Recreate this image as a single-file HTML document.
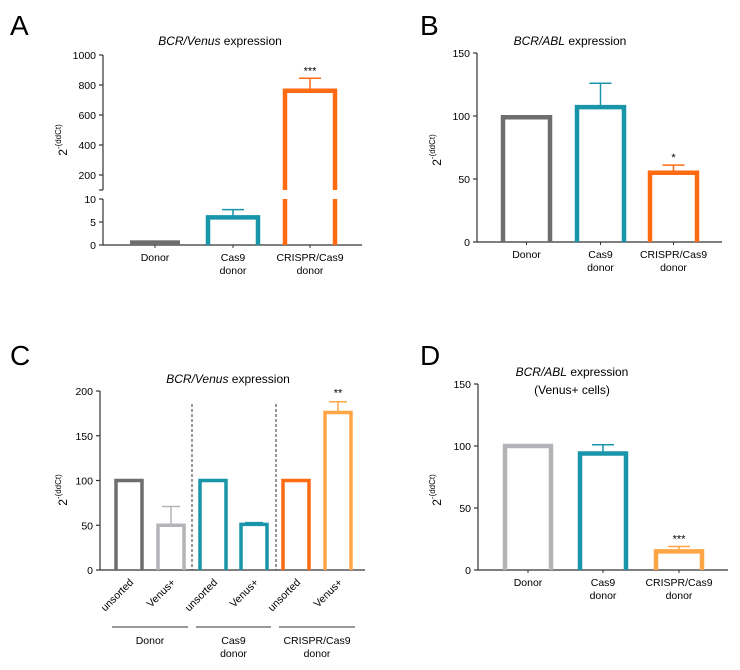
<!DOCTYPE html>
<html><head><meta charset="utf-8"><style>
html,body{margin:0;padding:0;background:#fff;}
svg{display:block;font-family:"Liberation Sans",Arial,sans-serif;}
</style></head><body>
<svg id="fig" width="740" height="670" viewBox="0 0 740 670" xmlns="http://www.w3.org/2000/svg">
<g id="root"></g>
</svg>
<script>
// Panel A data
const aCats = [["Donor"],["Cas9","donor"],["CRISPR/Cas9","donor"]];
const aVals = [0.8, 6, 762];
const aErr = [0.8, 7.7, 845];
const aStars = ["", "", "***"];
const aTicksLow = [0,5,10];
const aTicksHigh = [200,400,600,800,1000];
// Panel B data
const bCats = [["Donor"],["Cas9","donor"],["CRISPR/Cas9","donor"]];
const bVals = [99, 107, 55];
const bErr = [99, 126, 61];
const bStars = ["", "", "*"];
const bTicks = [0,50,100,150];
// Panel C data
const cCats = ["unsorted","Venus+","unsorted","Venus+","unsorted","Venus+"];
const cGroups = [["Donor"],["Cas9","donor"],["CRISPR/Cas9","donor"]];
const cVals = [100, 50, 100, 51, 100, 176];
const cErr = [100, 71, 100, 53, 100, 188];
const cStars = ["", "", "", "", "", "**"];
const cTicks = [0,50,100,150,200];
// Panel D data
const dCats = [["Donor"],["Cas9","donor"],["CRISPR/Cas9","donor"]];
const dVals = [100, 94, 15];
const dErr = [100, 101, 19];
const dStars = ["", "", "***"];
const dTicks = [0,50,100,150];

const NS="http://www.w3.org/2000/svg";
const root=document.getElementById('root');
function mk(tag,attrs,parent,text){const e=document.createElementNS(NS,tag);for(const k in attrs)e.setAttribute(k,attrs[k]);if(text!==undefined)e.textContent=text;(parent||root).appendChild(e);return e;}
function line(x1,y1,x2,y2,stroke,w,p,dash){const e=mk('line',{x1,y1,x2,y2,stroke,'stroke-width':w},p);if(dash)e.setAttribute('stroke-dasharray',dash);return e;}

const GRAY="#6e6e6e",LGRAY="#b4b4b8",TEAL="#1895a8",ORANGE="#ff6a12",LORANGE="#ffa545";

function panelLabel(t,x,y){const e=mk('text',{x,y,'font-size':28},root,t);

}
function ylabel(x,y){const g=mk('text',{transform:`translate(${x},${y}) rotate(-90)`,'font-size':12,'text-anchor':'middle'});


const t1=mk('tspan',{},g,'2');const t2=mk('tspan',{'font-size':8,dy:-6},g,'-(ddCt)');}
function title(x,y,ital,rest,name){const t=mk('text',{x,y,'font-size':12,'text-anchor':'middle'});


mk('tspan',{'font-style':'italic'},t,ital);mk('tspan',{},t,rest);}
function catLabel(x,y,lines,p){const t=mk('text',{x,y,'font-size':10.5,'text-anchor':'middle'},p);


lines.forEach((l,i)=>mk('tspan',{x,dy:i?13:0},t,l));}
function bar(g,x0,w,ytop,ybase,col,sw,name){
const p=mk('path',{d:`M${x0},${ybase} V${ytop} H${x0+w} V${ybase}`,fill:'none',stroke:col,'stroke-width':sw},g);

}
function errbar(g,cx,ytop,yerr,col,hw){line(cx,ytop,cx,yerr,col,1.5,g);line(cx-hw,yerr,cx+hw,yerr,col,1.5,g);}

function simplePanel(o){
 const g=mk('g',{});
 
 
 const y=v=>o.y0-(v-0)*(o.y0-o.yTop)/o.max;
 line(o.ax,o.yTop,o.ax,o.y0,'#333',1.2,g);
 line(o.ax,o.y0,o.axEnd,o.y0,'#333',1.2,g);
 o.ticks.forEach(t=>{line(o.ax-4,y(t),o.ax,y(t),'#333',1.2,g);
  const tx=mk('text',{x:o.ax-7,y:y(t)+4,'font-size':10.5,'text-anchor':'end'},g,String(t));
  
  });
 o.vals.forEach((v,i)=>{const x0=o.xs[i],cx=x0+o.w/2;
  bar(g,x0,o.w,y(v),o.y0,o.cols[i],4.5,'bar-'+i);
  errbar(g,cx,y(v),y(o.err[i]),o.cols[i],11);
  line(cx,o.y0,cx,o.y0+3,'#333',1,g);
  catLabel(cx,o.y0+16,o.cats[i],g);
  if(o.stars[i]){const s=mk('text',{x:cx,y:y(o.err[i])-4,'font-size':11,'text-anchor':'middle'},g,o.stars[i]);
   
   }
 });
}

// Panel A
panelLabel('A',10,35);
title(220,45,'BCR/Venus',' expression','panel-a-title');
ylabel(67,140);
(function(){
 const g=mk('g',{});
 
 
 const ax=103,y0=245,yLowTop=199,yBreak=190,yTop=55;
 const yl=v=>y0-v*(y0-yLowTop)/10;
 const yh=v=>175-(v-200)*0.15;
 const ys=v=>v<=10?yl(v):yh(v);
 line(ax,yLowTop,ax,y0,'#333',1.2,g);
 line(ax,yTop,ax,yBreak,'#333',1.2,g);
 line(ax-4,yBreak,ax,yBreak,'#333',1.2,g);
 line(ax,y0,362,y0,'#333',1.2,g);
 aTicksLow.forEach(t=>{line(ax-4,yl(t),ax,yl(t),'#333',1.2,g);
  const tx=mk('text',{x:ax-7,y:yl(t)+4,'font-size':10.5,'text-anchor':'end'},g,String(t));
  
  });
 aTicksHigh.forEach(t=>{line(ax-4,yh(t),ax,yh(t),'#333',1.2,g);
  const tx=mk('text',{x:ax-7,y:yh(t)+4,'font-size':10.5,'text-anchor':'end'},g,String(t));
  
  });
 const xs=[130,208,285],w=50,cols=[GRAY,TEAL,ORANGE];
 aVals.forEach((v,i)=>{const x0=xs[i],cx=x0+w/2,top=ys(v);
  if(v<=10){
   if(v<2){const r=mk('rect',{x:x0,y:top-1,width:w,height:y0-top+1,fill:cols[i]},g);
    
    }
   else{bar(g,x0,w,top,y0,cols[i],4.5,'bar-'+i);errbar(g,cx,top,ys(aErr[i]),cols[i],11);}
  } else {
   line(x0,y0,x0,yLowTop,cols[i],4.5,g);line(x0+w,y0,x0+w,yLowTop,cols[i],4.5,g);
   bar(g,x0,w,top,yBreak,cols[i],4.5,'bar-'+i);
   errbar(g,cx,top,ys(aErr[i]),cols[i],11);
  }
  line(cx,y0,cx,y0+3,'#333',1,g);
  catLabel(cx,y0+16,aCats[i],g);
  if(aStars[i]){const s=mk('text',{x:cx,y:ys(aErr[i])-4,'font-size':11,'text-anchor':'middle'},g,aStars[i]);
   
   }
 });
})();

// Panel B
panelLabel('B',420,35);
title(570,45,'BCR/ABL',' expression','panel-b-title');
ylabel(441,150);
simplePanel({name:'panel-b-chart',ax:477,axEnd:722,y0:242,yTop:53,max:150,ticks:bTicks,vals:bVals,err:bErr,stars:bStars,cats:bCats,xs:[503,577,650],w:47,cols:[GRAY,TEAL,ORANGE]});

// Panel C
panelLabel('C',10,365);
title(228,383,'BCR/Venus',' expression','panel-c-title');
ylabel(67,490);
(function(){
 const g=mk('g',{});
 
 
 const ax=100,y0=570,yTop=391,max=200;
 const y=v=>y0-v*(y0-yTop)/max;
 line(ax,yTop,ax,y0,'#333',1.2,g);
 line(ax,y0,365,y0,'#333',1.2,g);
 cTicks.forEach(t=>{line(ax-4,y(t),ax,y(t),'#333',1.2,g);
  const tx=mk('text',{x:ax-7,y:y(t)+4,'font-size':10.5,'text-anchor':'end'},g,String(t));
  
  });
 [192,276].forEach(x=>{const l=line(x,404,x,y0,'#333',1,g,'3,2');
  
  });
 const xs=[116,158,200,241,283,325],w=26,cols=[GRAY,LGRAY,TEAL,TEAL,ORANGE,LORANGE];
 cVals.forEach((v,i)=>{const x0=xs[i],cx=x0+w/2;
  bar(g,x0,w,y(v),y0,cols[i],3.5,'bar-'+i);
  errbar(g,cx,y(v),y(cErr[i]),cols[i],9);
  const t=mk('text',{transform:`translate(${cx+5},${y0+13}) rotate(-45)`,'font-size':10.5,'text-anchor':'end'},g,cCats[i]);
  
  
  if(cStars[i]){const s=mk('text',{x:cx,y:y(cErr[i])-5,'font-size':11,'text-anchor':'middle'},g,cStars[i]);
   
   }
 });
 cGroups.forEach((gl,i)=>{const x1=xs[i*2]-4,x2=xs[i*2+1]+w+4,cx=(x1+x2)/2;
  line(x1,627,x2,627,'#333',1,g);
  catLabel(cx,644,gl,g);});
})();

// Panel D
panelLabel('D',420,365);
title(572,376,'BCR/ABL',' expression','panel-d-title');
(function(){const t=mk('text',{x:572,y:394,'font-size':12,'text-anchor':'middle'},root,'(Venus+ cells)');
 
 })();
ylabel(441,490);
simplePanel({name:'panel-d-chart',ax:478,axEnd:728,y0:570,yTop:384,max:150,ticks:dTicks,vals:dVals,err:dErr,stars:dStars,cats:dCats,xs:[505,580,656],w:46,cols:[LGRAY,TEAL,LORANGE]});
</script>
</body></html>
